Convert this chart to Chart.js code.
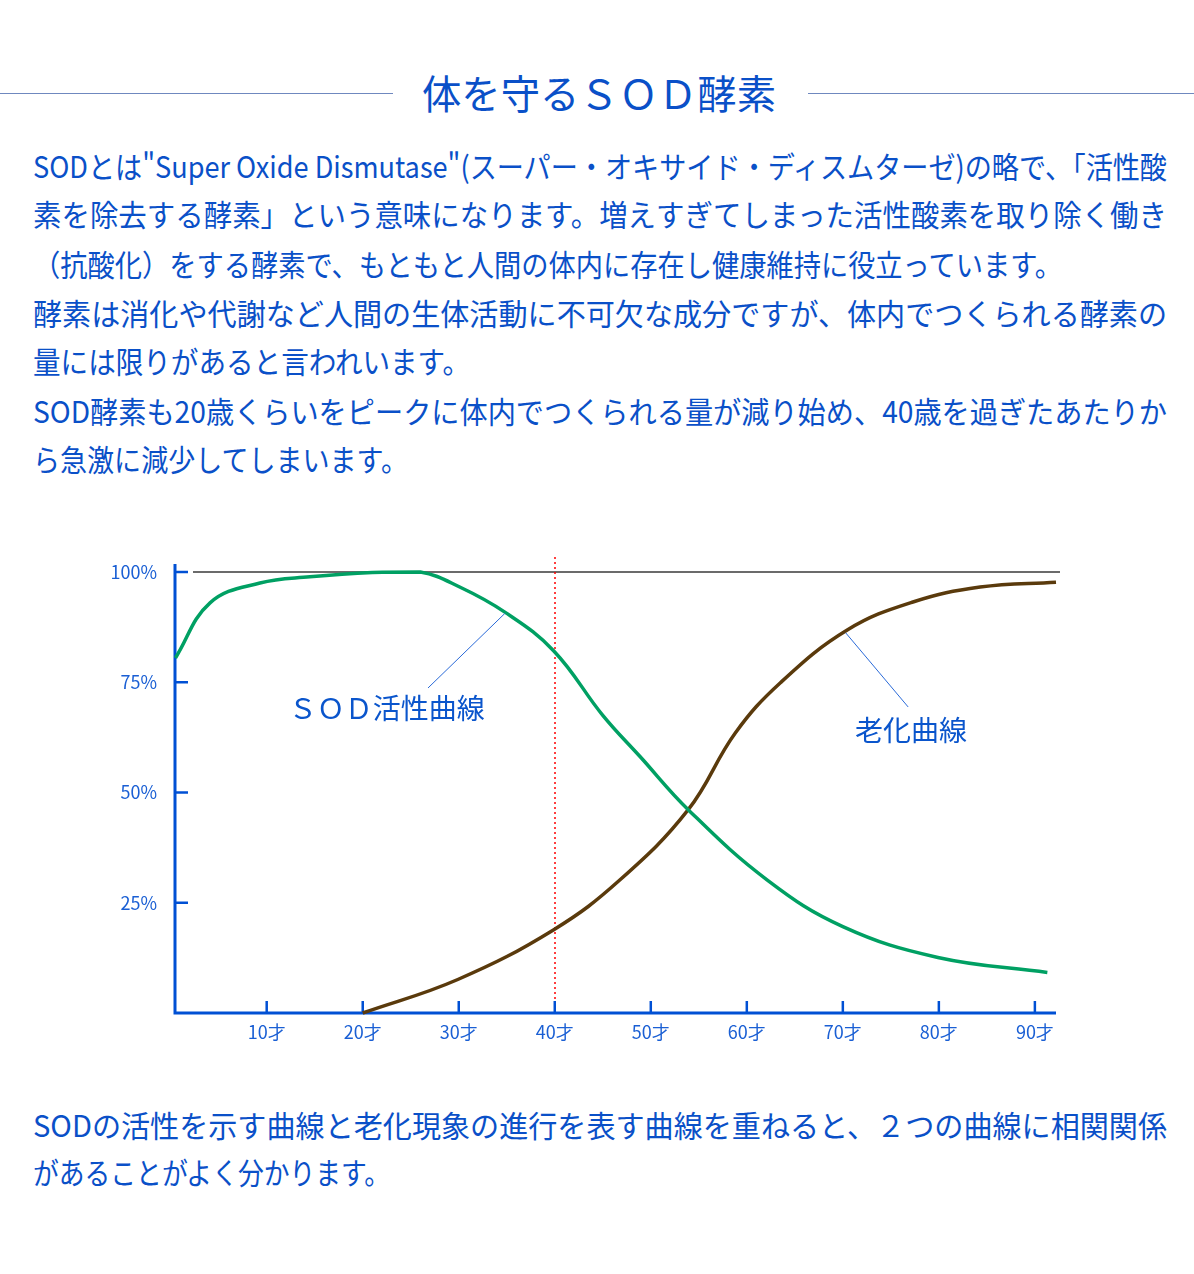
<!DOCTYPE html>
<html lang="ja">
<head>
<meta charset="utf-8">
<script src="https://cdn.jsdelivr.net/npm/chart.js@4.4.1/dist/chart.umd.min.js"></script>
<style>
  html, body { margin: 0; padding: 0; background: #fff; }
  body { width: 1194px; height: 1274px; position: relative; overflow: hidden;
         font-family: "Noto Sans CJK JP", "Noto Sans", sans-serif; color: #0a50c8; }
  .rule { position: absolute; top: 93px; height: 1px; background: #6f88bf; }
  .ln { position: absolute; left: 33px; white-space: nowrap; line-height: 48px;
        font-size: 30px; transform-origin: 0 50%; }
  .title { position: absolute; left: 422px; top: 66px; white-space: nowrap;
           font-size: 40px; line-height: 52px; transform-origin: 0 50%; }
  #chartBox { position: absolute; left: 0; top: 540px; }
</style>
</head>
<body>
<div class="rule" style="left:0;width:393px"></div>
<div class="rule" style="left:808px;width:386px"></div>
<span class="title" data-w="354">体を守るＳＯＤ酵素</span>

<span class="ln" data-w="1134" style="top:141px">SODとは"Super Oxide Dismutase"(スーパー・オキサイド・ディスムターゼ)の略で、「活性酸</span>
<span class="ln" data-w="1134" style="top:189px">素を除去する酵素」という意味になります。増えすぎてしまった活性酸素を取り除く働き</span>
<span class="ln" data-w="1029" style="top:239px">（抗酸化）をする酵素で、もともと人間の体内に存在し健康維持に役立っています。</span>
<span class="ln" data-w="1134" style="top:288px">酵素は消化や代謝など人間の生体活動に不可欠な成分ですが、体内でつくられる酵素の</span>
<span class="ln" data-w="437" style="top:336px">量には限りがあると言われいます。</span>
<span class="ln" data-w="1134" style="top:386px">SOD酵素も20歳くらいをピークに体内でつくられる量が減り始め、40歳を過ぎたあたりか</span>
<span class="ln" data-w="375" style="top:434px">ら急激に減少してしまいます。</span>

<div id="chartBox"><canvas id="Chart" width="1194" height="520"></canvas></div>

<span class="ln" data-w="1134" style="top:1100px">SODの活性を示す曲線と老化現象の進行を表す曲線を重ねると、２つの曲線に相関関係</span>
<span class="ln" data-w="357" style="top:1147px">があることがよく分かります。</span>

<script>
// SOD activity curve (age, %)
const sodAge = [0.5, 4.1, 9.3, 14.5, 21, 26, 30.1, 34.8, 39.9, 45, 48.9, 53.9, 62.1, 70.0, 79.9, 91.3];
const sodValue = [80.5, 93.0, 97.5, 98.9, 99.9, 100, 96.6, 90.9, 82.1, 67.5, 58.1, 46.1, 30.2, 19.6, 12.6, 9.2];
// aging curve (age, %)
const agingAge = [20, 29.9, 39.9, 46.8, 53.9, 58.8, 63.5, 70.5, 77.3, 84.3, 92.2];
const agingValue = [0, 7.6, 18.9, 30.2, 46.1, 63.5, 74.9, 86.9, 93.2, 96.6, 97.7];

const xTicks = [10, 20, 30, 40, 50, 60, 70, 80, 90];
const yTicks = [25, 50, 75, 100];
const markerAge = 40;

const labelSod = 'ＳＯＤ活性曲線';
const labelAging = '老化曲線';

const blue = '#0050d4';
const textBlue = '#0a55cc';

// fit each text line to its measured width
document.querySelectorAll('.ln, .title').forEach(function (el) {
    let w = parseFloat(el.dataset.w);
    let natural = el.getBoundingClientRect().width;
    el.style.transform = 'scaleX(' + (w / natural) + ')';
});

function toPoints(xs, ys) {
    return xs.map(function (x, i) { return {x: x, y: ys[i]}; });
}

const axesPlugin = {
    id: 'axesPlugin',
    beforeDatasetsDraw(chart) {
        const ctx = chart.ctx;
        const xs = chart.scales.x, ys = chart.scales.y;
        const left = xs.getPixelForValue(xs.min), right = xs.getPixelForValue(xs.max);
        const top = ys.getPixelForValue(100), bottom = ys.getPixelForValue(0);
        ctx.save();
        // 100% line
        ctx.strokeStyle = '#3a3a3a';
        ctx.lineWidth = 1.5;
        ctx.beginPath();
        ctx.moveTo(left + 18, top);
        ctx.lineTo(right + 4, top);
        ctx.stroke();
        // red dotted line at 40
        let mx = Math.round(xs.getPixelForValue(markerAge));
        ctx.strokeStyle = '#ff0000';
        ctx.lineWidth = 1.5;
        ctx.setLineDash([2, 3]);
        ctx.beginPath();
        ctx.moveTo(mx, top - 15);
        ctx.lineTo(mx, bottom - 14);
        ctx.stroke();
        ctx.setLineDash([]);
        // axes
        ctx.strokeStyle = blue;
        ctx.lineWidth = 3;
        ctx.beginPath();
        ctx.moveTo(left, top - 8);
        ctx.lineTo(left, bottom);
        ctx.lineTo(right, bottom);
        ctx.stroke();
        ctx.lineWidth = 2.5;
        yTicks.forEach(function (v) {
            let y = ys.getPixelForValue(v);
            ctx.beginPath();
            ctx.moveTo(left, y);
            ctx.lineTo(left + 13, y);
            ctx.stroke();
        });
        xTicks.forEach(function (v) {
            let x = xs.getPixelForValue(v);
            ctx.beginPath();
            ctx.moveTo(x, bottom);
            ctx.lineTo(x, bottom - 12);
            ctx.stroke();
        });
        ctx.restore();
    },
    afterDatasetsDraw(chart) {
        const ctx = chart.ctx;
        const xs = chart.scales.x, ys = chart.scales.y;
        const px = function (a, v) { return [xs.getPixelForValue(a), ys.getPixelForValue(v)]; };
        ctx.save();
        ctx.strokeStyle = '#2a6ad8';
        ctx.lineWidth = 1;
        [[34.8, 90.6, 26.8, 73.7], [70.3, 86.2, 76.8, 69.4]].forEach(function (l) {
            let a = px(l[0], l[1]), b = px(l[2], l[3]);
            ctx.beginPath();
            ctx.moveTo(a[0], a[1]);
            ctx.lineTo(b[0], b[1]);
            ctx.stroke();
        });
        ctx.fillStyle = textBlue;
        ctx.font = '28px "Noto Sans CJK JP"';
        ctx.textAlign = 'center';
        ctx.textBaseline = 'middle';
        let p1 = px(22.5, 69.0);
        ctx.fillText(labelSod, p1[0], p1[1]);
        let p2 = px(77.1, 64.2);
        ctx.fillText(labelAging, p2[0], p2[1]);
        ctx.restore();
    }
};

let chart = new Chart(document.getElementById('Chart'), {
    type: 'line',
    data: {
        datasets: [{
            label: labelSod,
            data: toPoints(sodAge, sodValue),
            borderColor: '#00a063',
            borderWidth: 3.5,
            tension: 0.4,
            pointRadius: 0,
            clip: false
        }, {
            label: labelAging,
            data: toPoints(agingAge, agingValue),
            borderColor: '#5a3a0c',
            borderWidth: 3.5,
            tension: 0.4,
            pointRadius: 0,
            clip: false
        }]
    },
    options: {
        responsive: false,
        animation: false,
        devicePixelRatio: 1,
        layout: {padding: {left: 0, right: 138, top: 32, bottom: 0}},
        plugins: {legend: {display: false}, tooltip: {enabled: false}},
        scales: {
            x: {
                type: 'linear',
                min: 0.45,
                max: 92.2,
                grid: {display: false, drawTicks: false},
                border: {display: false},
                afterBuildTicks: function (s) { s.ticks = xTicks.map(function (v) { return {value: v}; }); },
                afterFit: function (s) { s.height = 47; },
                ticks: {
                    padding: 8,
                    color: '#1a5fd4',
                    font: {family: '"Noto Sans CJK JP"', size: 18},
                    maxRotation: 0,
                    callback: function (v) { return v + '才'; }
                }
            },
            y: {
                min: 0,
                max: 100,
                grid: {display: false, drawTicks: false},
                border: {display: false},
                afterBuildTicks: function (s) { s.ticks = yTicks.map(function (v) { return {value: v}; }); },
                afterFit: function (s) { s.width = 175; },
                ticks: {
                    padding: 18,
                    color: '#1a5fd4',
                    font: {family: '"Noto Sans CJK JP"', size: 18},
                    callback: function (v) { return v + '%'; }
                }
            }
        }
    },
    plugins: [axesPlugin]
});
</script>
</body>
</html>
